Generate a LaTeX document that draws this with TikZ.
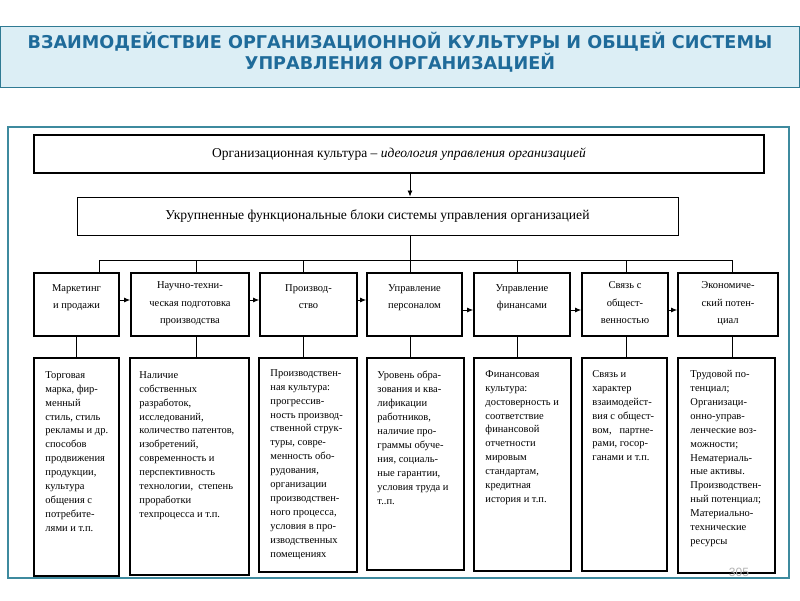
\documentclass[tikz,border=0pt]{standalone}
\usepackage{fontspec}
\setmainfont{Liberation Serif}
\setsansfont{Liberation Sans}
\newfontfamily\titlefont{DejaVu Sans}
\usetikzlibrary{arrows.meta,calc}
\definecolor{frameteal}{HTML}{3E8A9E}
\definecolor{titlefill}{HTML}{DCEEF5}
\definecolor{titleborder}{HTML}{2F7A93}
\definecolor{titletext}{HTML}{1F6B9A}
\tikzset{
  bigbox/.style={draw, line width=2pt, inner sep=0pt},
  thinbox/.style={draw, line width=1pt, inner sep=0pt},
  midbox/.style={draw, line width=1.8pt, inner sep=0pt},
  lowbox/.style={draw, line width=1.5pt, inner sep=0pt},
  midtext/.style={anchor=north, align=center, inner sep=0pt, font=\fontsize{10.5}{17.5}\selectfont},
  lowtext/.style={anchor=north west, align=left, inner sep=0pt, font=\fontsize{10.5}{13.9}\selectfont},
  conn/.style={line width=0.8pt},
  flow/.style={line width=0.8pt, -{Latex[length=6pt,width=5pt]}},
}
\begin{document}
\begin{tikzpicture}[x=1pt,y=-1pt]
\useasboundingbox (0,0) rectangle (800,600);
% title
\node[draw=titleborder, fill=titlefill, line width=1pt, minimum width=799pt, minimum height=61pt, inner sep=0pt] (titlebox) at (400,56.5) {};
\node[align=center, text=titletext, font=\titlefont\bfseries\fontsize{17.6}{21}\selectfont, inner sep=0pt] (title) at (400,52.5) {ВЗАИМОДЕЙСТВИЕ ОРГАНИЗАЦИОННОЙ КУЛЬТУРЫ И ОБЩЕЙ СИСТЕМЫ\\УПРАВЛЕНИЯ ОРГАНИЗАЦИЕЙ};
% frame
\node[draw=frameteal, line width=1.2pt, minimum width=781pt, minimum height=451pt, inner sep=0pt] (frame) at (398.5,352.5) {};
% top boxes
\node[bigbox, minimum width=730pt, minimum height=38pt] (top) at (399,154) {};
\node[font=\fontsize{13.5}{15}\selectfont, inner sep=0pt] (toptext) at (top) {Организационная культура – \textit{идеология управления организацией}};
\node[thinbox, minimum width=601pt, minimum height=38pt] (sec) at (377.5,216) {};
\node[font=\fontsize{13.6}{15}\selectfont, inner sep=0pt] (sectext) at (sec) {Укрупненные функциональные блоки системы управления организацией};
% bus coordinates
\coordinate (d1) at (99,260);
\coordinate (d2) at (196,260);
\coordinate (d3) at (303,260);
\coordinate (d4) at (410,260);
\coordinate (d5) at (517,260);
\coordinate (d6) at (626,260);
\coordinate (d7) at (732,260);
% middle boxes
\node[midbox, minimum width=85pt, minimum height=63pt] (m1) at (76.5,304.5) {};
\node[midbox, minimum width=118pt, minimum height=63pt] (m2) at (190,304.5) {};
\node[midbox, minimum width=97pt, minimum height=63pt] (m3) at (308.5,304.5) {};
\node[midbox, minimum width=95pt, minimum height=63pt] (m4) at (414.5,304.5) {};
\node[midbox, minimum width=96pt, minimum height=63pt] (m5) at (522,304.5) {};
\node[midbox, minimum width=86pt, minimum height=63pt] (m6) at (625,304.5) {};
\node[midbox, minimum width=100pt, minimum height=63pt] (m7) at (728,304.5) {};
\node[midtext] (mt1) at (76.5,284) {Маркетинг\\и продажи};
\node[midtext] (mt2) at (190,281.5) {Научно-техни-\\ческая подготовка\\производства};
\node[midtext] (mt3) at (308.5,284) {Производ-\\ство};
\node[midtext] (mt4) at (414.5,284) {Управление\\персоналом};
\node[midtext] (mt5) at (522,284) {Управление\\финансами};
\node[midtext] (mt6) at (625,281.5) {Связь с\\общест-\\венностью};
\node[midtext] (mt7) at (728,281.5) {Экономиче-\\ский потен-\\циал};
% lower boxes
\node[lowbox, minimum width=85pt, minimum height=218pt] (l1) at (76.5,467) {};
\node[lowbox, minimum width=119pt, minimum height=217pt] (l2) at (189.5,466.5) {};
\node[lowbox, minimum width=98pt, minimum height=214pt] (l3) at (308,465) {};
\node[lowbox, minimum width=97pt, minimum height=212pt] (l4) at (415.5,464) {};
\node[lowbox, minimum width=97pt, minimum height=213pt] (l5) at (522.5,464.5) {};
\node[lowbox, minimum width=85pt, minimum height=213pt] (l6) at (624.5,464.5) {};
\node[lowbox, minimum width=97pt, minimum height=215pt] (l7) at (726.5,465.5) {};
\node[lowtext] (lt1) at ($(l1.north west)+(12,14)$) {Торговая\\марка, фир-\\менный\\стиль, стиль\\рекламы и др.\\способов\\продвижения\\продукции,\\культура\\общения с\\потребите-\\лями и т.п.};
\node[lowtext] (lt2) at ($(l2.north west)+(10,14)$) {Наличие\\собственных\\разработок,\\исследований,\\количество патентов,\\изобретений,\\современность и\\перспективность\\технологии,\ \ степень\\проработки\\техпроцесса и т.п.};
\node[lowtext] (lt3) at ($(l3.north west)+(12,12)$) {Производствен-\\ная культура:\\прогрессив-\\ность производ-\\ственной струк-\\туры, совре-\\менность обо-\\рудования,\\организации\\производствен-\\ного процесса,\\условия в про-\\изводственных\\помещениях};
\node[lowtext] (lt4) at ($(l4.north west)+(11,14)$) {Уровень обра-\\зования и ква-\\лификации\\работников,\\наличие про-\\граммы обуче-\\ния, социаль-\\ные гарантии,\\условия труда и\\т..п.};
\node[lowtext] (lt5) at ($(l5.north west)+(12,13)$) {Финансовая\\культура:\\достоверность и\\соответствие\\финансовой\\отчетности\\мировым\\стандартам,\\кредитная\\история и т.п.};
\node[lowtext] (lt6) at ($(l6.north west)+(11,13)$) {Связь и\\характер\\взаимодейст-\\вия с общест-\\вом,\ \ \ партне-\\рами, госор-\\ганами и т.п.};
\node[lowtext] (lt7) at ($(l7.north west)+(13,13)$) {Трудовой по-\\тенциал;\\Организаци-\\онно-управ-\\ленческие воз-\\можности;\\Нематериаль-\\ные активы.\\Производствен-\\ный потенциал;\\Материально-\\технические\\ресурсы};
% connectors
\draw[flow] (top.south -| d4) -- (sec.north -| d4);
\draw[conn] (sec.south -| d4) -- (d4);
\draw[conn] (d1) -- (d7);
\foreach \i in {1,...,7} {\draw[conn] (d\i) -- (d\i |- m\i.north);}
\draw[conn] (m1.south) -- (l1.north);
\foreach \i in {2,...,7} {\draw[conn] (m\i.south -| d\i) -- (l\i.north -| d\i);}
\draw[flow] ($(m1.east)+(0,-4.5)$) -- ($(m2.west)+(0,-4.5)$);
\draw[flow] ($(m2.east)+(0,-4.5)$) -- ($(m3.west)+(0,-4.5)$);
\draw[flow] ($(m3.east)+(0,-4.5)$) -- ($(m4.west)+(0,-4.5)$);
\draw[flow] ($(m4.east)+(0,5.5)$) -- ($(m5.west)+(0,5.5)$);
\draw[flow] ($(m5.east)+(0,5.5)$) -- ($(m6.west)+(0,5.5)$);
\draw[flow] ($(m6.east)+(0,5.5)$) -- ($(m7.west)+(0,5.5)$);
% page number
\node[text=black!30, font=\sffamily\fontsize{12}{12}\selectfont, inner sep=0pt] (pg) at (739,572) {305};
\end{tikzpicture}
\end{document}
